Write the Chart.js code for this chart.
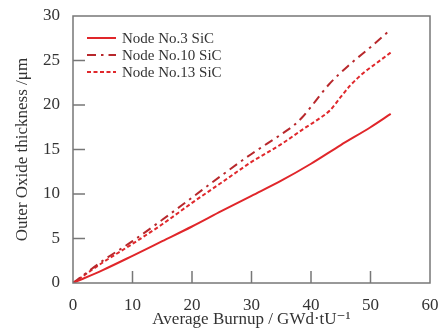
<!DOCTYPE html>
<html lang="en">
<head>
  <meta charset="UTF-8">
  <title>Outer Oxide thickness</title>
  <script src="https://cdn.jsdelivr.net/npm/chart.js"></script>
  <style>
    body { margin: 0; background: #fff; }
    canvas { display: block; }
  </style>
</head>
<body>
  <canvas id="grafica" width="445" height="331"></canvas>

  <script>
    // valores
    const burnup3 = [0, 5, 10, 15, 20, 25, 30, 35, 40, 45, 50, 53.4];
    const node3 = [0, 1.45, 3.05, 4.7, 6.35, 8.1, 9.8, 11.5, 13.4, 15.5, 17.5, 19.0];

    const burnup10 = [0, 5, 10, 15, 20, 25, 30, 35, 37, 38.5, 40, 43, 46.6, 50, 53.4];
    const node10 = [0, 2.5, 4.7, 7.1, 9.6, 12.1, 14.5, 16.7, 17.65, 18.6, 19.8, 22.3, 24.6, 26.5, 28.5];

    const burnup13 = [0, 5, 10, 15, 20, 25, 30, 35, 38.7, 41, 43.2, 45, 46.6, 48.8, 51, 53.4];
    const node13 = [0, 2.3, 4.4, 6.6, 9.0, 11.3, 13.6, 15.6, 17.3, 18.3, 19.4, 20.9, 22.2, 23.6, 24.7, 25.9];

    const labels = ['Node No.3 SiC', 'Node No.10 SiC', 'Node No.13 SiC'];
    const xTicks = [0, 10, 20, 30, 40, 50, 60];
    const yTicks = [0, 5, 10, 15, 20, 25, 30];

    const serif = '"Liberation Serif", "DejaVu Serif", serif';
    const txt = '#333';
    const eje = '#777';

    const pares = (xs, ys) => xs.map((x, i) => ({ x: x, y: ys[i] }));

    // ticks hacia dentro, caja y leyenda
    const marco = {
      id: 'marco',
      afterDraw(chart) {
        const ctx = chart.ctx;
        const a = chart.chartArea;
        const sx = chart.scales.x, sy = chart.scales.y;
        ctx.save();
        ctx.strokeStyle = eje;
        ctx.lineWidth = 1.5;
        ctx.strokeRect(a.left, a.top, a.right - a.left, a.bottom - a.top);
        ctx.beginPath();
        xTicks.slice(1, -1).forEach(v => {
          const px = sx.getPixelForValue(v);
          ctx.moveTo(px, a.bottom);
          ctx.lineTo(px, a.bottom - 12);
        });
        yTicks.slice(1, -1).forEach(v => {
          const py = sy.getPixelForValue(v);
          ctx.moveTo(a.left, py);
          ctx.lineTo(a.left + 12, py);
        });
        ctx.stroke();

        // leyenda
        ctx.font = '15px ' + serif;
        ctx.textBaseline = 'middle';
        chart.data.datasets.forEach((ds, i) => {
          const y = 38 + i * 17;
          ctx.strokeStyle = ds.borderColor;
          ctx.lineWidth = ds.borderWidth;
          ctx.setLineDash(ds.borderDash || []);
          ctx.beginPath();
          ctx.moveTo(87, y);
          ctx.lineTo(116, y);
          ctx.stroke();
          ctx.setLineDash([]);
          ctx.fillStyle = txt;
          ctx.fillText(ds.label, 122, y + 1);
        });
        ctx.restore();
      }
    };

    new Chart(document.getElementById('grafica'), {
      type: 'scatter',
      data: {
        datasets: [
          { label: labels[0], data: pares(burnup3, node3), borderColor: '#e0262a', borderWidth: 2, showLine: true, pointRadius: 0, cubicInterpolationMode: 'monotone' },
          { label: labels[1], data: pares(burnup10, node10), borderColor: '#b8282c', borderWidth: 2, borderDash: [9, 5, 2.5, 5], showLine: true, pointRadius: 0, cubicInterpolationMode: 'monotone' },
          { label: labels[2], data: pares(burnup13, node13), borderColor: '#e0282c', borderWidth: 2, borderDash: [4, 2.5], showLine: true, pointRadius: 0, cubicInterpolationMode: 'monotone' }
        ]
      },
      options: {
        responsive: false,
        animation: false,
        layout: { padding: { top: 16, right: 15, left: 0, bottom: 0 } },
        plugins: { legend: { display: false }, tooltip: { enabled: false } },
        scales: {
          x: {
            type: 'linear', min: 0, max: 60,
            afterFit: s => { s.height = 48; },
            afterBuildTicks: s => { s.ticks = xTicks.map(v => ({ value: v })); },
            grid: { display: false },
            border: { display: false },
            ticks: { color: txt, font: { family: serif, size: 17 }, padding: 4, maxRotation: 0 },
            title: { display: true, text: 'Average Burnup / GWd·tU⁻¹', color: txt, font: { family: serif, size: 17 }, padding: { top: 0, bottom: 1 } }
          },
          y: {
            type: 'linear', min: 0, max: 30,
            afterFit: s => { s.width = 73; },
            afterBuildTicks: s => { s.ticks = yTicks.map(v => ({ value: v })); },
            grid: { display: false },
            border: { display: false },
            ticks: { color: txt, font: { family: serif, size: 17 }, padding: 5 },
            title: { display: true, text: 'Outer Oxide thickness /μm', color: txt, font: { family: serif, size: 17 }, padding: { top: 12, bottom: 0 } }
          }
        }
      },
      plugins: [marco]
    });
  </script>
</body>
</html>
